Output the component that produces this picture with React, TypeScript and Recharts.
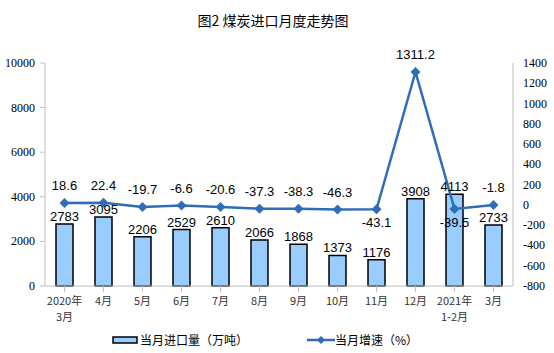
import { ComposedChart, Bar, Line, XAxis, YAxis, LabelList } from "recharts";

const months = ["2020年\n3月", "4月", "5月", "6月", "7月", "8月", "9月", "10月", "11月", "12月", "2021年\n1-2月", "3月"];
const importVolume = [2783, 3095, 2206, 2529, 2610, 2066, 1868, 1373, 1176, 3908, 4113, 2733];
const growthRate = [18.6, 22.4, -19.7, -6.6, -20.6, -37.3, -38.3, -46.3, -43.1, 1311.2, -39.5, -1.8];
const leftTicks = [0, 2000, 4000, 6000, 8000, 10000];
const rightTicks = [-800, -600, -400, -200, 0, 200, 400, 600, 800, 1000, 1200, 1400];
const belowLabels = [8, 10];

const data = months.map((m, i) => ({ month: m, volume: importVolume[i], growth: growthRate[i] }));

const LINE = "#2E6DB8";
const serif = "'Liberation Serif', 'DejaVu Serif', serif";
const sans = "'Liberation Sans', Arial, sans-serif";

function MonthTick({ x, y, payload }: any) {
  const lines = String(payload.value).split("\n");
  return (
    <text x={x} y={y + 11} textAnchor="middle" fontSize={11} fill="#333" fontFamily="'Noto Sans CJK SC', sans-serif">
      {lines.map((l, i) => (
        <tspan key={i} x={x} dy={i === 0 ? 0 : 16}>{l}</tspan>
      ))}
    </text>
  );
}

function LeftTick({ x, y, payload }: any) {
  return (
    <text x={x - 1} y={y + 4} textAnchor="end" fontSize={12} fill="#000" style={{ fontFamily: serif }}>
      {payload.value}
    </text>
  );
}

function RightTick({ x, y, payload }: any) {
  return (
    <text x={x + 10} y={y + 4} textAnchor="start" fontSize={12} fill="#000" style={{ fontFamily: serif }}>
      {payload.value}
    </text>
  );
}

function Diamond({ cx, cy }: any) {
  if (cx == null || cy == null) return null;
  const r = 5;
  return <path d={`M${cx},${cy - r}L${cx + r},${cy}L${cx},${cy + r}L${cx - r},${cy}Z`} fill={LINE} />;
}

function GrowthLabel({ x, y, value, index }: any) {
  const below = belowLabels.includes(index);
  return (
    <text x={x} y={below ? y + 18 : y - 13} textAnchor="middle" fontSize={13} fill="#000" fontFamily={sans}>
      {value}
    </text>
  );
}

export default function App() {
  return (
    <div style={{ position: "absolute", left: 0, top: 0, width: 554, height: 353, background: "#fff" }}>
      <div style={{ position: "absolute", top: 10, left: -4, width: 554, textAlign: "center", fontSize: 14, fontFamily: "'Noto Sans CJK SC', sans-serif", color: "#000" }}>
        图2 煤炭进口月度走势图
      </div>
      <ComposedChart width={554} height={353} data={data} margin={{ top: 63, right: 0, left: 0, bottom: 27 }}>
        <XAxis dataKey="month" interval={0} height={40} tick={<MonthTick />} stroke="#BFBFBF" tickLine={{ stroke: "#BFBFBF" }} />
        <YAxis yAxisId="left" domain={[0, 10000]} ticks={leftTicks} interval={0} width={45} stroke="#BFBFBF"
          tick={<LeftTick />} tickSize={5} tickMargin={4} />
        <YAxis yAxisId="right" orientation="right" domain={[-800, 1400]} ticks={rightTicks} interval={0} width={41} stroke="#BFBFBF"
          tick={<RightTick />} tickSize={0} tickMargin={0} />
        <Bar yAxisId="left" dataKey="volume" barSize={17} fill="#99CCFF" stroke="#000" strokeWidth={1.5} isAnimationActive={false}>
          <LabelList dataKey="volume" position="top" offset={3} fontSize={13} fill="#000" fontFamily={sans} />
        </Bar>
        <Line yAxisId="right" dataKey="growth" stroke={LINE} strokeWidth={2.5} dot={<Diamond />} activeDot={false} isAnimationActive={false}>
          <LabelList dataKey="growth" content={<GrowthLabel />} />
        </Line>
      </ComposedChart>
      <div style={{ position: "absolute", top: 331, left: 0, width: 554, height: 20, fontSize: 12, fontFamily: "'Noto Sans CJK SC', sans-serif", color: "#000" }}>
        <svg style={{ position: "absolute", left: 112, top: 4 }} width={26} height={10}>
          <rect x={1} y={2} width={24} height={6} fill="#99CCFF" stroke="#000" strokeWidth={1.5} />
        </svg>
        <span style={{ position: "absolute", left: 140, top: 0 }}>当月进口量（万吨）</span>
        <svg style={{ position: "absolute", left: 307, top: 2 }} width={28} height={14}>
          <line x1={0} y1={7} x2={28} y2={7} stroke={LINE} strokeWidth={2.5} />
          <path d="M14,3L18,7L14,11L10,7Z" fill={LINE} />
        </svg>
        <span style={{ position: "absolute", left: 335, top: 0 }}>当月增速（%）</span>
      </div>
    </div>
  );
}
